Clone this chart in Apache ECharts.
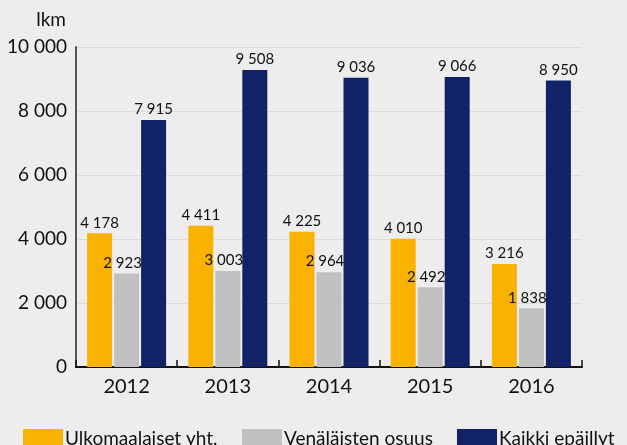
<!DOCTYPE html>
<html>
<head>
<meta charset="utf-8">
<script src="https://cdn.jsdelivr.net/npm/echarts@6/dist/echarts.min.js"></script>
<style>
  html, body { margin: 0; padding: 0; background: #ededed; }
  #main { width: 627px; height: 445px; }
</style>
</head>
<body>
<div id="main"></div>
<script>
// vuodet ja sarjat
var years = ['2012', '2013', '2014', '2015', '2016'];
var ulkomaalaiset = [4178, 4411, 4225, 4010, 3216];
var venalaiset = [2923, 3003, 2964, 2492, 1838];
// pylväiden korkeudet luettu kuvasta (2012 ja 2013 piirretty matalammiksi kuin niiden arvot)
var kaikki = [7720, 9280, 9036, 9066, 8950];
var kaikkiLabels = [7915, 9508, 9036, 9066, 8950];

var FONT = 'Lato, "DejaVu Sans", sans-serif';

function fmt(v) {
  return String(v).replace(/\B(?=(\d{3})+(?!\d))/g, ' ');
}

function labelOf(offset, texts) {
  return {
    show: true,
    position: 'top',
    distance: 3,
    offset: offset,
    color: '#111',
    fontFamily: FONT,
    fontSize: 15,
    formatter: function (p) {
      return fmt(texts ? texts[p.dataIndex] : p.value);
    }
  };
}

function legendAt(left, name) {
  return {
    left: left - 5,
    top: 424,
    data: [name],
    itemWidth: 40,
    itemHeight: 20,
    icon: 'rect',
    textStyle: { fontFamily: FONT, fontSize: 19, color: '#111', padding: [0, 0, 0, -3] }
  };
}

var myChart = echarts.init(document.getElementById('main'));
myChart.setOption({
  backgroundColor: '#ededed',
  animation: false,
  grid: { left: 76, right: 45, top: 47, bottom: 78 },
  legend: [
    legendAt(23, 'Ulkomaalaiset yht.'),
    legendAt(242, 'Venäläisten osuus'),
    legendAt(457, 'Kaikki epäillyt')
  ],
  xAxis: {
    type: 'category',
    data: years,
    axisLine: { lineStyle: { color: '#111', width: 2 } },
    axisTick: { show: true, inside: true, length: 7, interval: 0, lineStyle: { color: '#111', width: 1.5 } },
    axisLabel: { color: '#111', fontFamily: FONT, fontSize: 20, margin: 10 }
  },
  yAxis: {
    type: 'value',
    min: 0,
    max: 10000,
    interval: 2000,
    name: 'lkm',
    nameLocation: 'end',
    nameGap: 18,
    nameTextStyle: { color: '#111', fontFamily: FONT, fontSize: 19, align: 'right', padding: [0, 10, 0, 0] },
    axisLine: { show: true, lineStyle: { color: '#555', width: 2 } },
    axisTick: { show: false },
    axisLabel: { color: '#111', fontFamily: FONT, fontSize: 19, margin: 9, formatter: fmt },
    splitLine: { lineStyle: { color: '#dcdcd6', width: 1 } }
  },
  series: [
    {
      name: 'Ulkomaalaiset yht.',
      type: 'bar',
      data: ulkomaalaiset,
      barWidth: 25,
      barGap: '8%',
      itemStyle: { color: '#f9b200' },
      label: labelOf([0, 0])
    },
    {
      name: 'Venäläisten osuus',
      type: 'bar',
      data: venalaiset,
      barWidth: 25,
      itemStyle: { color: '#bfc0c2' },
      label: labelOf([-4, 0])
    },
    {
      name: 'Kaikki epäillyt',
      type: 'bar',
      data: kaikki,
      barWidth: 25,
      itemStyle: { color: '#122266' },
      label: labelOf([0, 0], kaikkiLabels)
    }
  ]
});
</script>
</body>
</html>
